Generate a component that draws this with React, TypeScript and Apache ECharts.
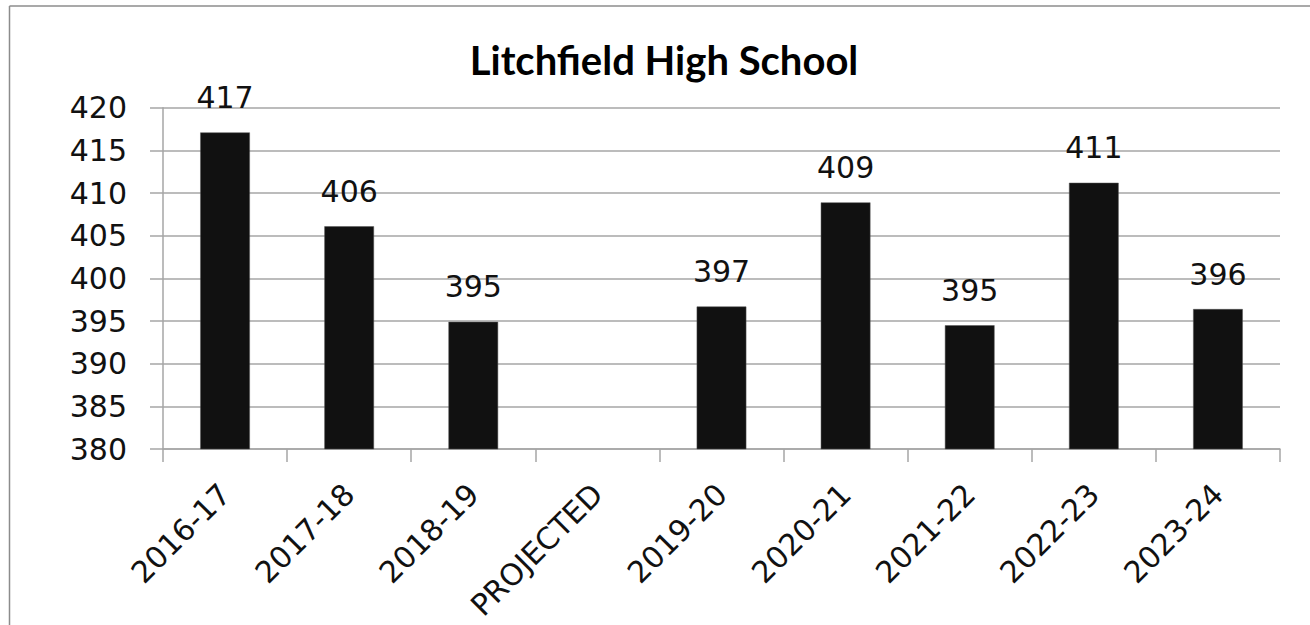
import React, { useEffect, useRef } from "react";
import * as echarts from "echarts";

const titleText = "Litchfield High School";
const categories = [
  "2016-17",
  "2017-18",
  "2018-19",
  "PROJECTED",
  "2019-20",
  "2020-21",
  "2021-22",
  "2022-23",
  "2023-24",
];
const enrollment: (number | null)[] = [417.1, 406.1, 394.9, null, 396.7, 408.9, 394.5, 411.2, 396.4];
const yMin = 380;
const yMax = 420;
const yStep = 5;

const NUM_FONT = "DejaVu Sans";
const GRID_GRAY = "#a6a6a6";

export default function App() {
  const ref = useRef<HTMLDivElement>(null);
  useEffect(() => {
    if (!ref.current) return;
    const chart = echarts.init(ref.current, null, { renderer: "svg" });
    chart.setOption({
      animation: false,
      backgroundColor: "#ffffff",
      graphic: [
        {
          type: "line",
          shape: { x1: 9.5, y1: 6, x2: 9.5, y2: 625 },
          style: { stroke: "#8c8c8c", lineWidth: 1.5 },
        },
        {
          type: "line",
          shape: { x1: 9.5, y1: 6, x2: 1310, y2: 6 },
          style: { stroke: "#8c8c8c", lineWidth: 1.5 },
        },
        {
          type: "text",
          x: 664,
          y: 60,
          style: {
            text: titleText,
            textAlign: "center",
            textVerticalAlign: "middle",
            fontFamily: "Lato",
            fontWeight: "bold",
            fontSize: 40,
            fill: "#000000",
          },
        },
      ],
      grid: { left: 163, right: 30, top: 107.7, bottom: 176, containLabel: false },
      xAxis: {
        type: "category",
        data: categories,
        axisLine: { show: true, lineStyle: { color: GRID_GRAY, width: 1.5 } },
        axisTick: { show: true, length: 13, lineStyle: { color: GRID_GRAY, width: 1.5 } },
        axisLabel: {
          rotate: 45,
          margin: 40,
          interval: 0,
          fontFamily: NUM_FONT,
          fontSize: 30,
          color: "#111111",
        },
        splitLine: { show: false },
      },
      yAxis: {
        type: "value",
        min: yMin,
        max: yMax,
        interval: yStep,
        axisLine: { show: true, lineStyle: { color: GRID_GRAY, width: 1.5 } },
        axisTick: { show: true, length: 13, lineStyle: { color: GRID_GRAY, width: 1.5 } },
        axisLabel: {
          margin: 36,
          fontFamily: NUM_FONT,
          fontSize: 30,
          color: "#111111",
        },
        splitLine: { show: true, lineStyle: { color: GRID_GRAY, width: 1.5 } },
      },
      series: [
        {
          type: "bar",
          data: enrollment,
          barWidth: "40%",
          itemStyle: { color: "#111111", borderColor: "#555555", borderWidth: 0.5 },
          label: {
            show: true,
            position: "top",
            distance: 20,
            fontFamily: NUM_FONT,
            fontSize: 30,
            color: "#111111",
            formatter: (p: any) => (p.value == null ? "" : String(Math.round(p.value))),
          },
        },
      ],
    });
    return () => chart.dispose();
  }, []);
  return (
    <div
      ref={ref}
      style={{ position: "fixed", left: 0, top: 0, width: 1310, height: 625, background: "#fff" }}
    />
  );
}
